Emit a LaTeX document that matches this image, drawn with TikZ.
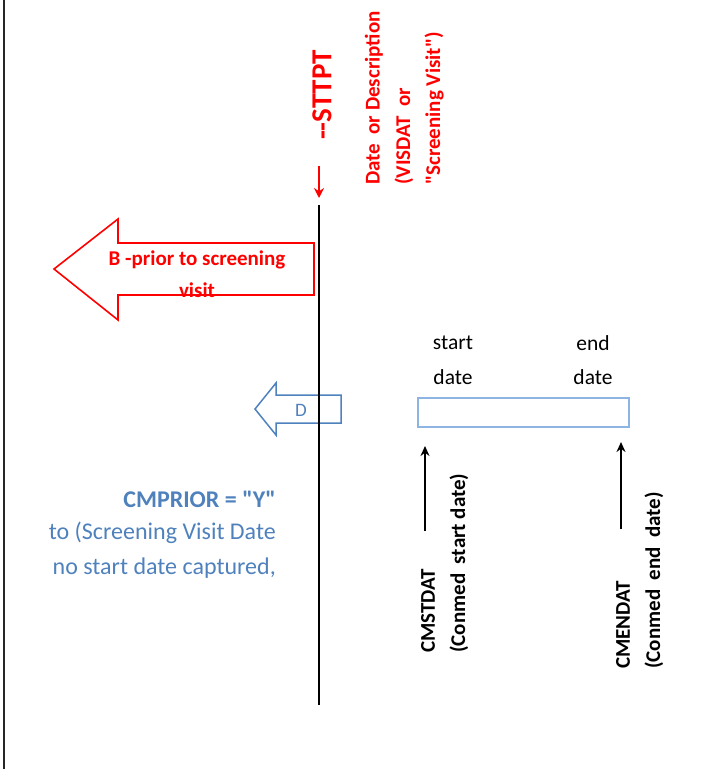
\documentclass[tikz,border=0pt]{standalone}
\usepackage{fontspec}
\setmainfont{Carlito}[Ligatures=TeXOff]
\usetikzlibrary{arrows.meta}
\definecolor{myblue}{RGB}{79,129,189}
\definecolor{lightblu}{RGB}{141,180,226}
\definecolor{myred}{RGB}{255,0,0}
\begin{document}
\begin{tikzpicture}[x=1pt,y=-1pt,
  redtxt/.style={text=myred,font=\fontsize{21}{30}\selectfont\bfseries,inner sep=0pt},
  rottxt/.style={rotate=90,anchor=west,inner sep=0pt},
  blktxt/.style={font=\fontsize{21.5}{30}\selectfont,inner sep=0pt},
  bluetxt/.style={text=myblue,font=\fontsize{24}{35}\selectfont,inner sep=0pt,anchor=east},
  boldblk/.style={font=\fontsize{21}{30}\selectfont\bfseries,inner sep=0pt},
  upar/.style={draw=black,line width=1.6pt,-{Stealth[length=10pt,width=9pt]}}
]
\useasboundingbox (0,0) rectangle (707,769);
% left border
\draw[line width=1.8pt,black!85] (4,0) -- (4,769);
% main timeline
\coordinate (ltop) at (319,205);
\coordinate (lbot) at (319,705);
% blue D arrow (drawn before line so line shows through)
\draw[myblue,line width=1.5pt,line join=miter]
  (255,409) -- (276,383) -- (276,395) -- (341,395) -- (341,423) -- (276,423) -- (276,435) -- cycle;
\node[text=myblue,font=\fontsize{19}{20}\selectfont,inner sep=0pt] (dlab) at (301,410) {D};
\draw[line width=1.8pt] (ltop) -- (lbot);
% red arrow down
\coordinate (rs) at (319,166);
\coordinate (re) at (319,198);
\draw[myred,line width=1.8pt,-{Stealth[length=10pt,width=10pt]}] (rs) -- (re);
% STTPT
\node[redtxt,rottxt,font=\fontsize{29}{32}\selectfont\bfseries,anchor=center] (sttpt) at (322,95) {--STTPT};
% date or description
\node[redtxt,rottxt] (d1) at (374,185) {Date\ \ or Description};
\node[redtxt,rottxt] (d2) at (404,185) {(VISDAT\ \ or};
\node[redtxt,rottxt] (d3) at (434,185) {"Screening Visit")};
% big red arrow
\draw[myred,line width=1.6pt,line join=miter]
  (54,269) -- (118,219) -- (118,243) -- (314,243) -- (314,295) -- (118,295) -- (118,320) -- cycle;
\node[redtxt] (b1) at (197,260) {B -prior to screening};
\node[redtxt] (b2) at (197,290) {visit};
% rectangle
\draw[lightblu,line width=2pt] (418,398) rectangle (629,427);
\node[blktxt] (s1) at (453,343) {start};
\node[blktxt] (s2) at (453,377) {date};
\node[blktxt] (e1) at (593,343) {end};
\node[blktxt] (e2) at (593,377) {date};
% up arrows
\coordinate (a1s) at (425,531);
\coordinate (a1e) at (425,446);
\draw[upar] (a1s) -- (a1e);
\coordinate (a2s) at (621,529);
\coordinate (a2e) at (621,442);
\draw[upar] (a2s) -- (a2e);
\node[boldblk,rottxt] (c1) at (428,653) {CMSTDAT};
\node[boldblk,rottxt] (c2) at (459,653) {(Conmed\ \ start date)};
\node[boldblk,rottxt] (c3) at (623,669) {CMENDAT};
\node[boldblk,rottxt] (c4) at (654,669) {(Conmed\ \ end\ \ date)};
% blue text
\node[bluetxt,font=\fontsize{24}{35}\selectfont\bfseries] (p1) at (276,499) {CMPRIOR = "Y"};
\node[bluetxt] (p2) at (276,533) {to (Screening Visit Date};
\node[bluetxt] (p3) at (276,568) {no start date captured,};
\end{tikzpicture}
\end{document}
